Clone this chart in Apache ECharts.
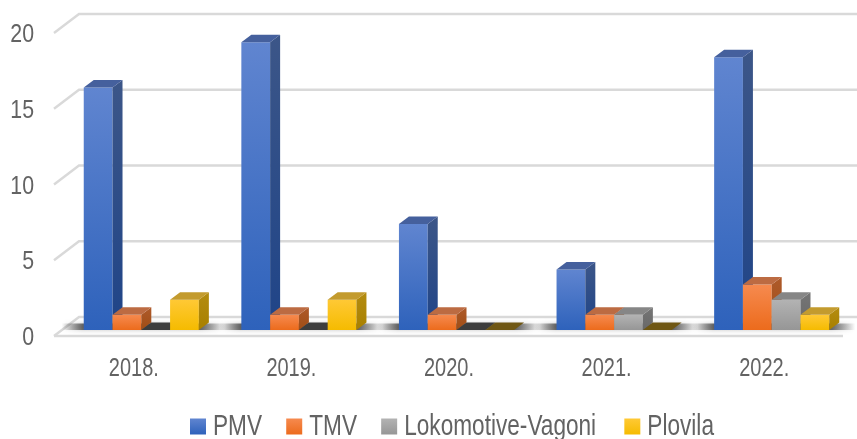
<!DOCTYPE html>
<html><head><meta charset="utf-8">
<style>html,body{margin:0;padding:0;background:#fff}#c{width:857px;height:439px;filter:blur(0.45px)}</style>
<script src="https://cdn.jsdelivr.net/npm/echarts@6/dist/echarts.min.js"></script>
</head><body><div id="c"></div>
<script>
const categories = ['2018.', '2019.', '2020.', '2021.', '2022.'];
const pmv = [16, 19, 7, 4, 18];
const tmv = [1, 1, 1, 1, 3];
const lokomotive = [0, 0, 0, 1, 2];
const plovila = [2, 2, 0, 0, 1];
const ticks = [0, 5, 10, 15, 20];

const FONT = '"Liberation Sans", sans-serif';
const grad = (a, b) => new echarts.graphic.LinearGradient(0, 0, 0, 1, [{offset: 0, color: a}, {offset: 1, color: b}]);
const styles = [
  {name: 'PMV', data: pmv, front: ['#6085d0', '#2e62bb'], side: ['#3c5688', '#1f4488'], top: '#45609d', zero: '#444'},
  {name: 'TMV', data: tmv, front: ['#f68a4f', '#ec6b1c'], side: ['#ae5a2a', '#a04d15'], top: '#bc6b42', zero: '#444'},
  {name: 'Lokomotive-Vagoni', data: lokomotive, front: ['#b3b3b3', '#969696'], side: ['#757575', '#686868'], top: '#868686', zero: '#3d3d3d'},
  {name: 'Plovila', data: plovila, front: ['#ffc935', '#f5bb00'], side: ['#b48c10', '#a88000'], top: '#c39b2e', zero: '#6f5714'}
];
const DX = 10, DY = 7.5, SHIFT_X = 7.5, SHIFT_Y = -6, BAR = 0.1826;
const AXIS_K = 0.8, YAXIS_K = 0.82, LEGEND_K = 0.78;

function wallRender(params, api) {
  const v = api.value(0), cs = params.coordSys;
  const y = api.coord([0, v])[1], x0 = cs.x - 1, xb = x0 + 25;
  const pts = [[x0, y], [xb, y - 19], [cs.x + cs.width + 14, y - 19]];
  const style = {stroke: '#d9d9d9', lineWidth: 2.4, fill: null};
  const kids = [{type: 'polyline', shape: {points: pts}, style}];
  if (v === 0) kids.push({type: 'line', shape: {x1: x0, y1: y, x2: cs.x + cs.width, y2: y}, style});
  return {type: 'group', children: kids};
}

function shadowRender(params, api) {
  const idx = api.value(0), c = api.coord([idx, 0]), band = api.size([1, 0])[0];
  const w = band * BAR, l = c[0] + SHIFT_X - 2 * w - 22, r = c[0] + SHIFT_X + 2 * w + 26;
  const yb = c[1] + SHIFT_Y;
  return {type: 'rect', shape: {x: l, y: yb - DY + 1, width: r - l, height: DY - 1},
    style: {fill: new echarts.graphic.LinearGradient(0, 0, 1, 0, [
      {offset: 0, color: 'rgba(50,50,50,0)'}, {offset: 0.13, color: 'rgba(50,50,50,0.7)'},
      {offset: 0.85, color: 'rgba(50,50,50,0.7)'}, {offset: 1, color: 'rgba(50,50,50,0)'}]),
      shadowBlur: 5, shadowColor: 'rgba(90,90,90,0.5)'}};
}

function barRender(si) {
  return function (params, api) {
    const st = styles[si], idx = api.value(0), v = api.value(1);
    const base = api.coord([idx, 0]), top = api.coord([idx, v]), band = api.size([1, 0])[0];
    const w = band * BAR, x = base[0] + SHIFT_X + (si - 2) * w;
    const yb = base[1] + SHIFT_Y, yt = top[1] + SHIFT_Y;
    const kids = [];
    const topShape = [[x, yt], [x + DX, yt - DY], [x + w + DX, yt - DY], [x + w, yt]];
    if (v > 0) {
      kids.push({type: 'rect', shape: {x, y: yt, width: w, height: yb - yt}, style: {fill: grad(st.front[0], st.front[1])}});
      kids.push({type: 'polygon', shape: {points: [[x + w, yt], [x + w + DX, yt - DY], [x + w + DX, yb - DY], [x + w, yb]]}, style: {fill: grad(st.side[0], st.side[1])}});
      kids.push({type: 'polygon', shape: {points: topShape}, style: {fill: st.top}});
    } else {
      kids.push({type: 'polygon', shape: {points: topShape}, style: {fill: st.zero}});
    }
    return {type: 'group', children: kids};
  };
}

const chart = echarts.init(document.getElementById('c'), null, {renderer: 'canvas'});
chart.setOption({
  animation: false,
  backgroundColor: '#fff',
  grid: {left: 55, right: 14, top: 33, bottom: 103},
  legend: {
    left: 185, top: 407, width: 1400, itemWidth: 16 / LEGEND_K, itemHeight: 16, itemGap: 31, icon: 'rect',
    data: styles.map(s => s.name),
    textStyle: {fontFamily: FONT, fontSize: 29, color: '#636363', padding: [0, 0, 4, 4]}
  },
  xAxis: {
    type: 'category', data: categories,
    axisLine: {show: false}, axisTick: {show: false}, splitLine: {show: false},
    axisLabel: {fontFamily: FONT, fontSize: 25, color: '#636363', margin: 21}
  },
  yAxis: {
    type: 'value', min: 0, max: 20, interval: 5,
    axisLine: {show: false}, axisTick: {show: false}, splitLine: {show: false},
    axisLabel: {fontFamily: FONT, fontSize: 26, color: '#636363', margin: 21}
  },
  series: [
    {type: 'custom', name: 'walls', silent: true, z: 1, renderItem: wallRender, data: ticks.map(t => [t]), encode: {y: 0}},
    {type: 'custom', name: 'shadows', silent: true, z: 2, renderItem: shadowRender, data: categories.map((c, i) => [i]), encode: {x: 0}}
  ].concat(styles.map((s, si) => ({
    type: 'custom', name: s.name, z: 3 + si, renderItem: barRender(si),
    itemStyle: {color: grad(s.front[0], s.front[1])},
    data: s.data.map((v, i) => [i, v]), encode: {x: 0, y: 1}
  })))
});

// The reference uses a condensed typeface that is not installed: narrow the real text horizontally.
const zr = chart.getZr();
const names = styles.map(s => s.name);
function walk(el) {
  if (el.type === 'text' && el.style && el.style.text != null) {
    if (names.includes(el.style.text)) {
      const item = el.parent, content = item && item.parent;
      if (content) { content.scaleX = LEGEND_K; content.originX = 0; content.markRedraw(); }
      if (el.style.text === 'Plovila') { item.x += 4 / LEGEND_K; item.markRedraw(); }
    } else {
      const isX = categories.includes(el.style.text);
      el.originX = el.style.x || 0;
      el.scaleX = isX ? AXIS_K : YAXIS_K;
      if (!isX) el.y += 2;
      el.markRedraw();
    }
    return;
  }
  if (el.childrenRef) el.childrenRef().forEach(walk);
}
zr.storage.getRoots().forEach(walk);
zr.refreshImmediately();
</script></body></html>
